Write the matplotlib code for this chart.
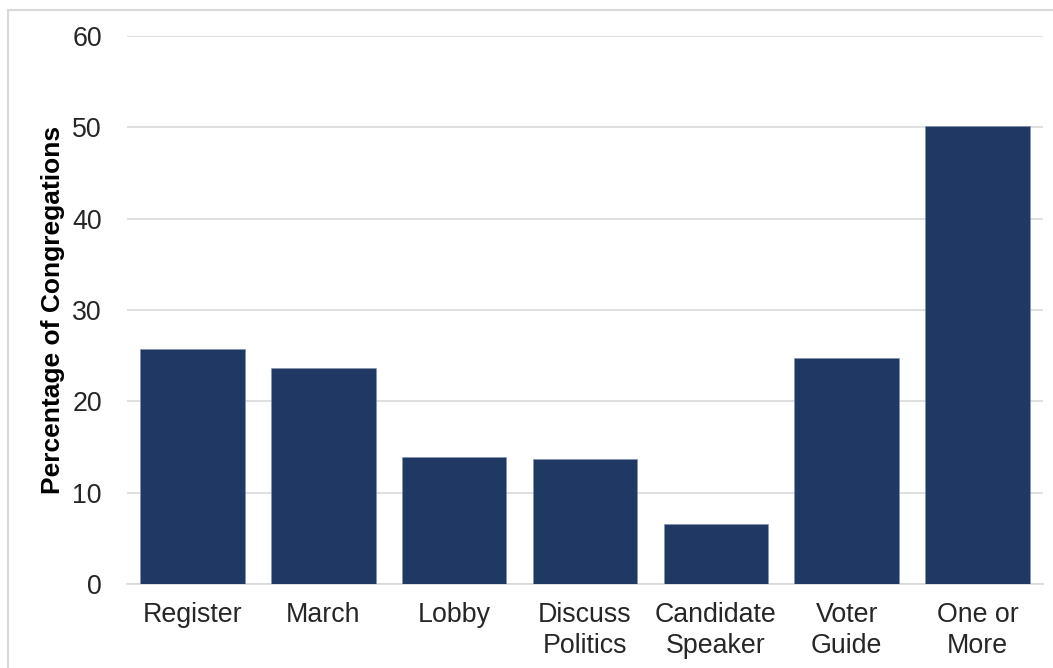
import matplotlib
matplotlib.use("Agg")
import matplotlib.pyplot as plt
from matplotlib.patches import Rectangle

categories = ["Register", "March", "Lobby", "Discuss\nPolitics", "Candidate\nSpeaker", "Voter\nGuide", "One or\nMore"]
values = [25.7, 23.6, 13.9, 13.7, 6.6, 24.7, 50.2]
yticks = [0, 10, 20, 30, 40, 50, 60]

plt.rcParams['font.family'] = ['Liberation Sans', 'DejaVu Sans']

fig = plt.figure(figsize=(10.53, 6.68), dpi=100)
ax = fig.add_axes([127/1053, 1-584/668, (1043-127)/1053, (584-36)/668])

fig.patches.append(Rectangle((8/1053, -0.1), 1.2, 1-10/668+0.1, transform=fig.transFigure,
                             fill=False, edgecolor='#d9d9d9', linewidth=1.5))

x = list(range(len(categories)))
ax.bar(x, values, width=0.8, color='#203864', edgecolor='#8090b0', linewidth=0.4, zorder=3)
ax.set_xlim(-0.5, len(categories) - 0.5)
ax.set_ylim(0, 60)
ax.set_yticks(yticks)
ax.set_xticks(x)
ax.set_xticklabels(categories, fontsize=19.3, color='#262626', linespacing=1.25)
ax.tick_params(axis='y', labelsize=19.3, colors='#262626', length=0, pad=18)
ax.tick_params(axis='x', length=0, pad=13)
ax.grid(axis='y', color='#d9d9d9', linewidth=1.2, zorder=0)
for s in ['top', 'right', 'left']:
    ax.spines[s].set_visible(False)
ax.spines['bottom'].set_color('#d9d9d9')
ax.spines['bottom'].set_linewidth(1.2)
ax.set_ylabel("Percentage of Congregations", fontsize=19, fontweight='bold', color='black', labelpad=5)

fig.savefig("out.png", dpi=100)
